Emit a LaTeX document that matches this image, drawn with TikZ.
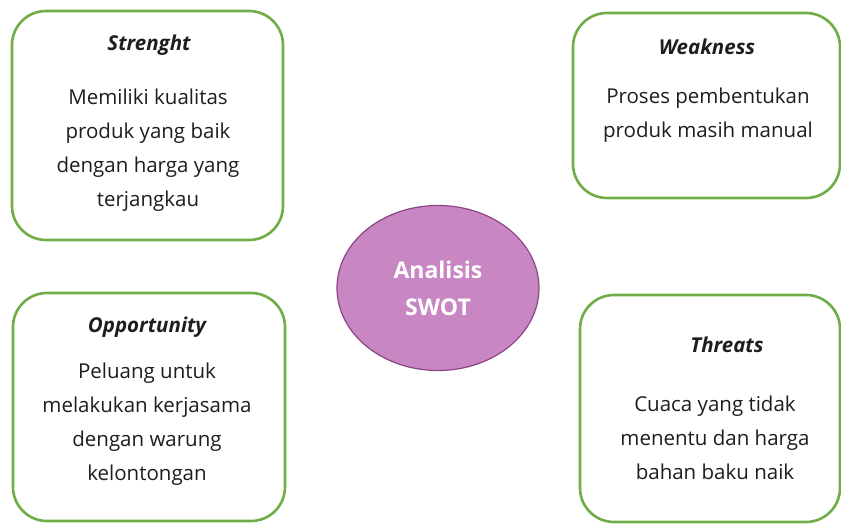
\documentclass[tikz,border=0pt]{standalone}
\usepackage{fontspec}
\setmainfont{Open Sans}
\usetikzlibrary{shapes.geometric}
\definecolor{swotgreen}{RGB}{112,173,71}
\definecolor{swotfill}{RGB}{200,134,194}
\definecolor{swotedge}{RGB}{138,70,132}
\definecolor{ink}{RGB}{30,30,30}

\begin{document}
\begin{tikzpicture}[x=1pt,y=-1pt,
    quadbox/.style={draw=swotgreen, line width=2.6pt, rounded corners=34pt, fill=white},
    boxtitle/.style={font=\fontsize{20.5}{25}\selectfont\bfseries\itshape, text=ink},
    boxtext/.style={font=\fontsize{20.5}{34}\selectfont, text=ink, align=center},
    swotcore/.style={ellipse, draw=swotedge, line width=1.2pt, fill=swotfill,
      minimum width=202pt, minimum height=165pt}]
  \useasboundingbox (0,0) rectangle (841,524);

  % the four boxes
  \node[quadbox, minimum width=271pt, minimum height=229pt] (strength) at (147.5,125.5) {};
  \node[quadbox, minimum width=267pt, minimum height=185pt] (weakness) at (706.5,105.5) {};
  \node[quadbox, minimum width=272pt, minimum height=228pt] (opportunity) at (149,407) {};
  \node[quadbox, minimum width=260pt, minimum height=227pt] (threats) at (710,408.5) {};

  % texts
  \node[boxtitle] (strengthtitle) at (149,45) {Strenght};
  \node[boxtext] (strengthtext) at (148,150) {Memiliki kualitas\\produk yang baik\\dengan harga yang\\terjangkau};

  \node[boxtitle] (weaknesstitle) at (707,47) {Weakness};
  \node[boxtext] (weaknesstext) at (708,115) {Proses pembentukan\\produk masih manual};

  \node[boxtitle] (opportunitytitle) at (147,327) {Opportunity};
  \node[boxtext] (opportunitytext) at (147,424) {Peluang untuk\\melakukan kerjasama\\dengan warung\\kelontongan};

  \node[boxtitle] (threatstitle) at (727,345) {Threats};
  \node[boxtext] (threatstext) at (715,438) {Cuaca yang tidak\\menentu dan harga\\bahan baku naik};

  % centre
  \node[swotcore, font=\fontsize{23}{37}\selectfont\bfseries, text=white, align=center] (swot) at (438,288) {Analisis\\SWOT};
\end{tikzpicture}
\end{document}
